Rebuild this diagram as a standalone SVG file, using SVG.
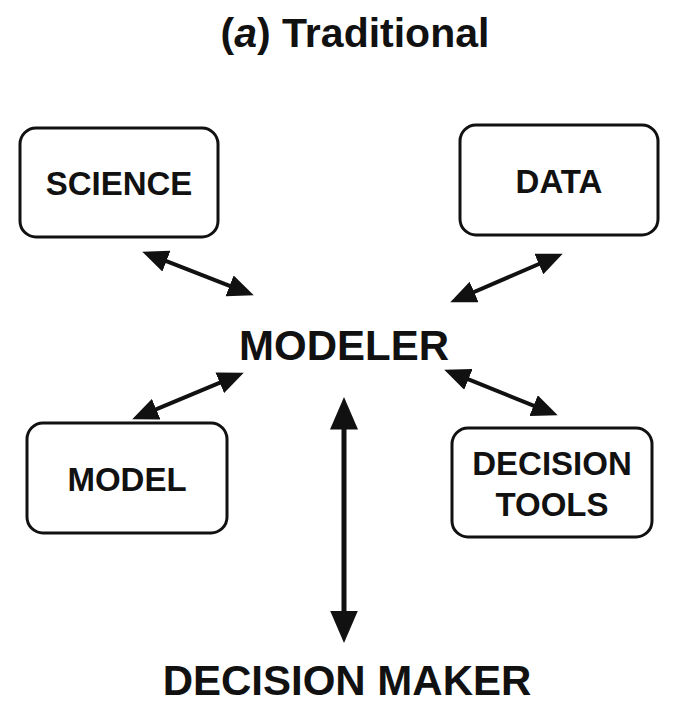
<svg xmlns="http://www.w3.org/2000/svg" width="690" height="716" viewBox="0 0 690 716">
<style>
text{font-family:"Liberation Sans",Arial,sans-serif;font-weight:bold;fill:#111;text-anchor:middle}
.box{fill:#fff;stroke:#111;stroke-width:3}
.lbl{font-size:33px}
.big{font-size:42px}
.conn{stroke:#111;fill:none}
.d{stroke-width:4}
.v{stroke-width:5}
</style>
<defs>
<marker id="ah" viewBox="0 0 6.5 5.6" markerWidth="6.5" markerHeight="5.6" refX="3.8" refY="2.8" orient="auto-start-reverse" markerUnits="strokeWidth">
<path d="M0,0 L6.5,2.8 L0,5.6 z" fill="#111"/>
</marker>
</defs>
<rect width="690" height="716" fill="#fff"/>
<g id="title"><text x="355" y="47" style="font-size:41px">(<tspan font-style="italic">a</tspan>) Traditional</text></g>
<g id="science"><rect class="box" x="20" y="128" width="198" height="109" rx="16"/><text class="lbl" x="119" y="195">SCIENCE</text></g>
<g id="data"><rect class="box" x="460" y="125" width="198" height="110" rx="16"/><text class="lbl" x="559" y="193">DATA</text></g>
<g id="modeler"><text class="big" x="344" y="360">MODELER</text></g>
<g id="model"><rect class="box" x="27" y="423" width="200" height="110" rx="16"/><text class="lbl" x="127" y="491">MODEL</text></g>
<g id="decision-tools"><rect class="box" x="452" y="428" width="200" height="109" rx="16"/><text class="lbl" x="552" y="475">DECISION</text><text class="lbl" x="552" y="516">TOOLS</text></g>
<g id="decision-maker"><text class="big" x="347" y="695">DECISION MAKER</text></g>
<g id="connectors">
<line class="conn d" x1="152.3" y1="255.6" x2="243.7" y2="291.4" marker-start="url(#ah)" marker-end="url(#ah)"/>
<line class="conn d" x1="552.8" y1="258" x2="460.2" y2="298" marker-start="url(#ah)" marker-end="url(#ah)"/>
<line class="conn d" x1="142.2" y1="415.1" x2="233.8" y2="376.9" marker-start="url(#ah)" marker-end="url(#ah)"/>
<line class="conn d" x1="454.3" y1="373.7" x2="547.7" y2="411.3" marker-start="url(#ah)" marker-end="url(#ah)"/>
<line class="conn v" x1="344" y1="410.5" x2="344" y2="629.5" marker-start="url(#ah)" marker-end="url(#ah)"/>
</g>
</svg>
